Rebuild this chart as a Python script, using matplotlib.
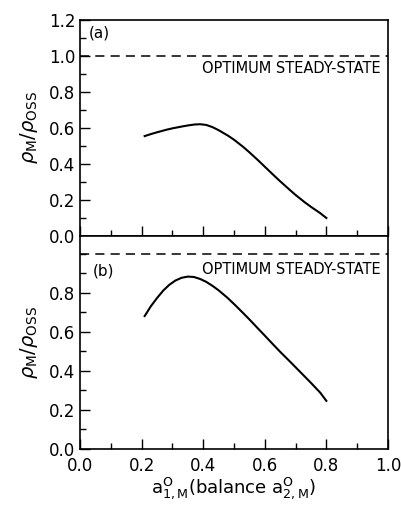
import matplotlib
matplotlib.use("Agg")
import matplotlib.pyplot as plt
from matplotlib.ticker import MultipleLocator

# panel (a)
xa = [0.21, 0.23, 0.25, 0.28, 0.30, 0.33, 0.35, 0.37, 0.39, 0.41, 0.43, 0.45, 0.48,
      0.50, 0.53, 0.55, 0.58, 0.60, 0.63, 0.65, 0.68, 0.70, 0.73, 0.75, 0.78, 0.80]
ya = [0.555, 0.566, 0.576, 0.590, 0.598, 0.608, 0.614, 0.619, 0.621, 0.617, 0.605,
      0.588, 0.558, 0.535, 0.495, 0.465, 0.418, 0.385, 0.336, 0.304, 0.258, 0.228,
      0.187, 0.162, 0.127, 0.100]

# panel (b)
xb = [0.21, 0.23, 0.25, 0.27, 0.29, 0.31, 0.33, 0.35, 0.37, 0.39, 0.41, 0.43, 0.45,
      0.48, 0.50, 0.53, 0.55, 0.58, 0.60, 0.63, 0.65, 0.68, 0.70, 0.73, 0.75, 0.78, 0.80]
yb = [0.680, 0.730, 0.772, 0.810, 0.840, 0.862, 0.876, 0.882, 0.880, 0.870, 0.855,
      0.835, 0.812, 0.772, 0.742, 0.695, 0.663, 0.613, 0.580, 0.530, 0.497, 0.450,
      0.418, 0.370, 0.338, 0.288, 0.246]

optimum = 1.0
label_text = "OPTIMUM STEADY-STATE"

plt.rcParams['font.family'] = ['DejaVu Sans']
plt.rcParams['mathtext.fontset'] = 'dejavusans'

fig = plt.figure(figsize=(4.02, 5.13), dpi=100)
ax1 = fig.add_axes([0.199, 0.540, 0.766, 0.421])
ax2 = fig.add_axes([0.199, 0.125, 0.766, 0.415])

for ax in (ax1, ax2):
    ax.set_xlim(0, 1.0)
    ax.xaxis.set_major_locator(MultipleLocator(0.2))
    ax.xaxis.set_minor_locator(MultipleLocator(0.1))
    ax.yaxis.set_major_locator(MultipleLocator(0.2))
    ax.yaxis.set_minor_locator(MultipleLocator(0.1))
    ax.tick_params(which='both', direction='in', top=False, right=False,
                   labelsize=12, width=1.0)
    ax.tick_params(which='major', length=7)
    ax.tick_params(which='minor', length=4)
    for s in ax.spines.values():
        s.set_linewidth(1.2)
    ax.set_ylabel(r'$\rho_{\mathrm{M}}/\rho_{\mathrm{OSS}}$', fontsize=14, labelpad=6)

# (a)
ax1.plot(xa, ya, color='black', lw=1.5)
ax1.axhline(optimum, color='black', lw=1.1, ls=(0, (6, 4)))
ax1.set_ylim(0, 1.2)
ax1.set_yticks([0.0, 0.2, 0.4, 0.6, 0.8, 1.0, 1.2])
ax1.set_yticklabels(['0.0', '0.2', '0.4', '0.6', '0.8', '1.0', '1.2'])
ax1.tick_params(axis='x', labelbottom=False)
ax1.text(0.03, 1.13, '(a)', fontsize=11, va='center')
ax1.text(0.975, 0.93, label_text, fontsize=10.5, ha='right', va='center')

# (b)
ax2.plot(xb, yb, color='black', lw=1.5)
ax2.axhline(optimum, color='black', lw=1.1, ls=(0, (6, 4)))
ax2.set_ylim(0, 1.09)
ax2.set_yticks([0.0, 0.2, 0.4, 0.6, 0.8])
ax2.text(0.04, 0.91, '(b)', fontsize=11, va='center')
ax2.text(0.975, 0.92, label_text, fontsize=10.5, ha='right', va='center')
ax2.set_xlabel(r'$\mathrm{a}^{\mathrm{O}}_{\mathrm{1,M}}$(balance $\mathrm{a}^{\mathrm{O}}_{\mathrm{2,M}}$)',
               fontsize=13, labelpad=0)
ax2.tick_params(axis='x', pad=6)

fig.savefig('out.png', dpi=100)
